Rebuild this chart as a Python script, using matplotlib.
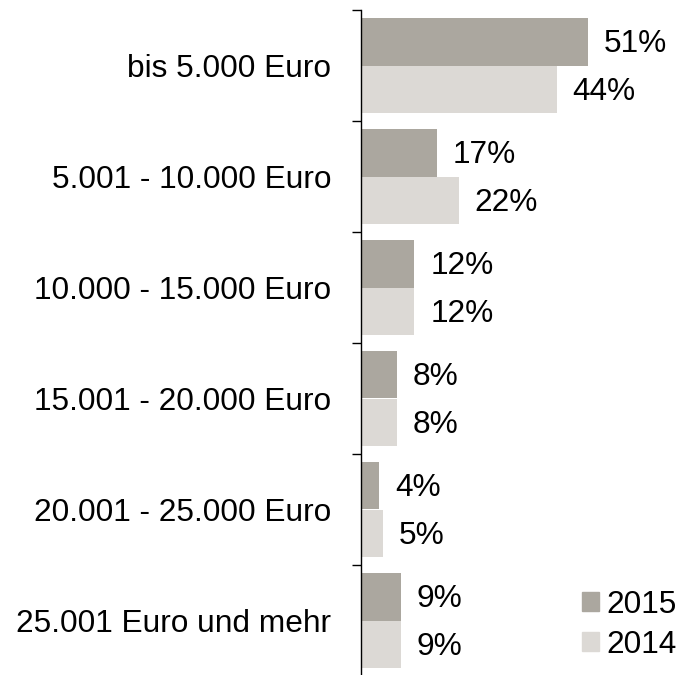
import matplotlib
matplotlib.use("Agg")
import matplotlib.pyplot as plt
from matplotlib.patches import Patch
from matplotlib.ticker import FixedLocator

plt.rcParams['font.family'] = ['Liberation Sans', 'DejaVu Sans']

categories = ["bis 5.000 Euro", "5.001 - 10.000 Euro", "10.000 - 15.000 Euro",
              "15.001 - 20.000 Euro", "20.001 - 25.000 Euro", "25.001 Euro und mehr"]
values_2015 = [51, 17, 12, 8, 4, 9]
values_2014 = [44, 22, 12, 8, 5, 9]
series_labels = ["2015", "2014"]
colors = ["#aba79f", "#dcd9d5"]

FS = 22.8
fig = plt.figure(figsize=(6.81, 6.75), dpi=100)
ax = fig.add_axes([361/681, -1/675, 1 - 361/681, 666/675])

n = len(categories)
pos = list(range(n))
h = 0.432
off = 0.216
ax.barh([p - off for p in pos], values_2015, height=h, color=colors[0], label=series_labels[0])
ax.barh([p + off for p in pos], values_2014, height=h, color=colors[1], label=series_labels[1])

for p, v in zip(pos, values_2015):
    ax.annotate(f"{v}%", (v, p - off), xytext=(11.5, -2), textcoords="offset points",
                va="center", ha="left", fontsize=FS)
for p, v in zip(pos, values_2014):
    ax.annotate(f"{v}%", (v, p + off), xytext=(11.5, -2), textcoords="offset points",
                va="center", ha="left", fontsize=FS)

ax.set_ylim(n - 0.5, -0.5)
ax.set_xlim(0, 72)
ax.set_yticks(pos)
ax.set_yticklabels(categories, fontsize=FS)
ax.yaxis.set_minor_locator(FixedLocator([p - 0.5 for p in range(n + 1)]))
ax.tick_params(axis='y', which='major', length=0, pad=21.5)
ax.tick_params(axis='y', which='minor', length=6.5, width=1, color='black')
ax.set_xticks([])
for s in ['top', 'right', 'bottom']:
    ax.spines[s].set_visible(False)
ax.spines['left'].set_linewidth(1)
ax.spines['left'].set_color('black')

handles = [Patch(color=c, label=l) for c, l in zip(colors, series_labels)]
fig.legend(handles=handles, loc='lower right', bbox_to_anchor=(677/681, 15/675),
           frameon=False, fontsize=FS, handlelength=0.54, handleheight=0.54,
           handletextpad=0.25, labelspacing=0.32, borderpad=0, borderaxespad=0)

fig.savefig("out.png", dpi=100)
